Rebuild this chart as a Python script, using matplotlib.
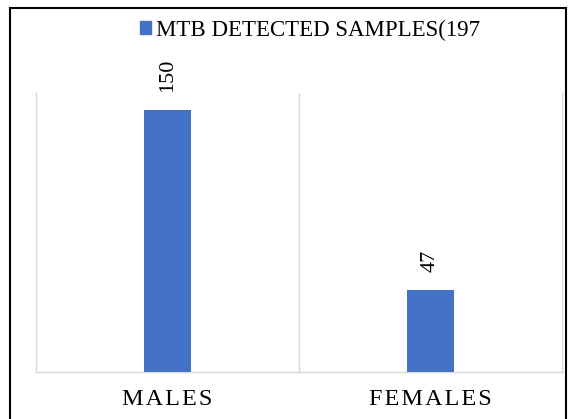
import matplotlib
matplotlib.use('agg')
import matplotlib.pyplot as plt
from matplotlib.patches import Rectangle
from matplotlib.lines import Line2D

categories = ['MALES', 'FEMALES']
detected = [150, 47]
series_name = 'MTB DETECTED SAMPLES(197'

plt.rcParams['font.family'] = ['Liberation Serif', 'DejaVu Serif']

fig = plt.figure(figsize=(5.77, 4.19), dpi=100)
ax = fig.add_axes([0.0624, 0.1122, 0.9116, 0.666])

x = range(len(categories))
bars = ax.bar(x, detected, width=0.18, color='#4472C4', label=series_name, zorder=3)

ax.set_xlim(-0.5, len(categories) - 0.5)
ax.set_ylim(0, 160)
ax.set_yticks([])
ax.set_xticks(list(x))
# spaced caps like the source
ax.set_xticklabels(['\u200a'.join(c) for c in categories], fontsize=17.5)
ax.tick_params(axis='x', length=0, pad=12)

for s in ['left', 'right', 'bottom']:
    ax.spines[s].set_color('#d9d9d9')
    ax.spines[s].set_linewidth(1)
ax.spines['top'].set_visible(False)
ax.axvline(0.5, color='#d9d9d9', lw=1, zorder=1)

for rect, v in zip(bars, detected):
    ax.annotate(str(v), (rect.get_x() + rect.get_width() / 2, v),
                xytext=(0, 13), textcoords='offset points',
                ha='center', va='bottom', rotation=90, fontsize=16)

fig.legend(handles=[Rectangle((0, 0), 1, 1, color='#4472C4')], labels=[series_name],
           loc='center', bbox_to_anchor=(0.537, 0.928), frameon=False,
           fontsize=16.5, handlelength=0.5, handleheight=0.5, handletextpad=0.2)

# black border of the source frame
fig.add_artist(Line2D([0.018, 0.018], [-0.1, 0.981], color='black', lw=1.5))
fig.add_artist(Line2D([0.981, 0.981], [-0.1, 0.981], color='black', lw=1.5))
fig.add_artist(Line2D([0.018, 0.981], [0.981, 0.981], color='black', lw=1.5))

plt.savefig('out.png', dpi=100)
